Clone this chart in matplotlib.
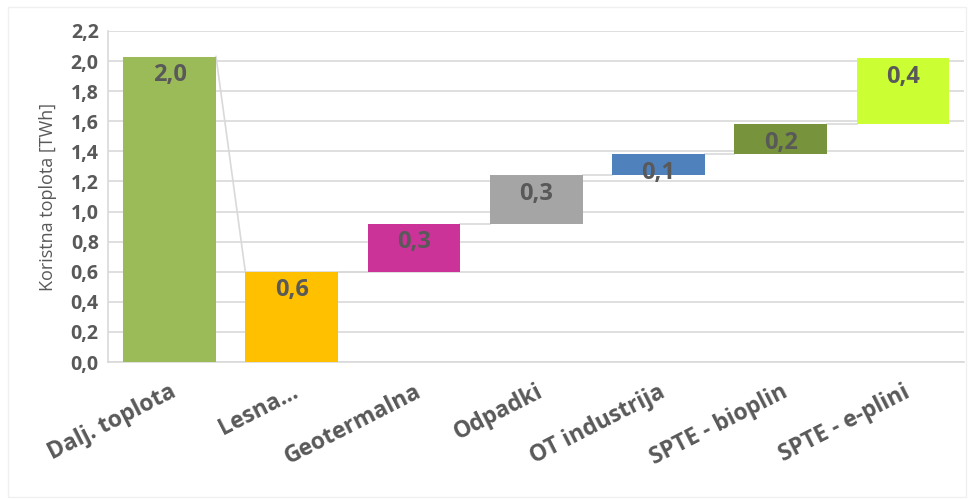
import matplotlib.pyplot as plt
from matplotlib.patches import Rectangle

plt.rcParams['font.family'] = ['Open Sans', 'DejaVu Sans']

# Waterfall data (TWh)
categories = ['Dalj. toplota', 'Lesna...', 'Geotermalna', 'Odpadki',
              'OT industrija', 'SPTE - bioplin', 'SPTE - e-plini']
values = [2.03, 0.60, 0.32, 0.32, 0.14, 0.20, 0.44]
labels = ['2,0', '0,6', '0,3', '0,3', '0,1', '0,2', '0,4']
colors = ['#9BBB59', '#FFC000', '#CC3399', '#A5A5A5', '#4F81BD', '#77933C', '#CCFF33']

# first bar is the total, the rest stack up from zero
bottoms = [0.0]
running = 0.0
for v in values[1:]:
    bottoms.append(running)
    running += v
tops = [b + v for b, v in zip(bottoms, values)]

txt = '#595959'
fig = plt.figure(figsize=(9.68, 4.99), dpi=100)
ax = fig.add_axes([0.112, 0.2745, 0.884, 0.6635])

width = 0.76
x = list(range(len(categories)))
ax.bar(x, values, bottom=bottoms, width=width, color=colors, zorder=3)

# connector lines
for i in range(len(x) - 1):
    y_end = tops[i + 1] if i == 0 else bottoms[i + 1]
    ax.plot([x[i] + width / 2, x[i + 1] - width / 2], [tops[i], y_end],
            color='#D9D9D9', lw=1.2, zorder=2)

for xi, top, lab in zip(x, tops, labels):
    ax.annotate(lab, (xi, top), xytext=(0, -13.5), textcoords='offset points',
                ha='center', va='center', fontsize=17, fontweight='bold',
                color=txt, zorder=4)

ax.set_xlim(-0.5, len(x) - 0.5)
ax.set_ylim(0, 2.2)
ax.set_yticks([i * 0.2 for i in range(12)])
ax.set_yticklabels([f'{i * 0.2:.1f}'.replace('.', ',') for i in range(12)],
                   fontsize=14, fontweight='bold', color=txt)
ax.set_xticks(x)
ax.set_xticklabels(categories, rotation=27, ha='right', rotation_mode='anchor',
                   fontsize=16.5, fontweight='bold', color=txt)
ax.tick_params(axis='both', length=0, pad=7)
ax.tick_params(axis='x', pad=13)
ax.set_ylabel('Koristna toplota [TWh]', fontsize=13, color=txt, labelpad=10)

ax.grid(axis='y', color='#D9D9D9', lw=1.2, zorder=0)
ax.set_axisbelow(True)
for side in ['top', 'right']:
    ax.spines[side].set_visible(False)
for side in ['left', 'bottom']:
    ax.spines[side].set_color('#D9D9D9')
    ax.spines[side].set_linewidth(1.2)

fig.patches.append(Rectangle((0.008, 0.005), 0.99, 0.98, transform=fig.transFigure,
                             fill=False, edgecolor='#F0F0F0', lw=1))

fig.savefig('out.png', dpi=100)
